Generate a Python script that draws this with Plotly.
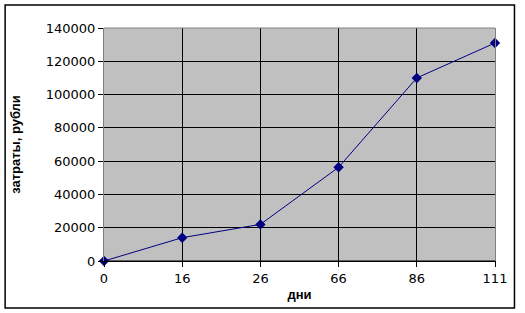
import plotly.graph_objects as go

days = ["0", "16", "26", "66", "86", "111"]
costs = [0, 14000, 22000, 56300, 110000, 131000]
y_ticks = [0, 20000, 40000, 60000, 80000, 100000, 120000, 140000]

W, H = 525, 313
L, R, T, B = 104, 29.5, 28, 52
pw, ph = W - L - R, H - T - B

idx = list(range(len(days)))

fig = go.Figure(go.Scatter(
    x=idx, y=costs, mode="lines+markers",
    line=dict(color="#000080", width=1),
    marker=dict(symbol="diamond", size=8, color="#000080"),
    cliponaxis=False,
))

tickfont = dict(family="DejaVu Sans", size=13, color="black")
titlefont = dict(family="Liberation Sans", size=13, color="black")

fig.update_layout(
    width=W, height=H,
    margin=dict(l=L, r=R, t=T, b=B),
    paper_bgcolor="white", plot_bgcolor="#C0C0C0",
    showlegend=False,
    xaxis=dict(
        range=[0, len(days) - 1], tickvals=idx, ticktext=days,
        showgrid=True, gridcolor="black", gridwidth=1, zeroline=False,
        showline=True, linecolor="black", linewidth=1,
        ticks="outside", ticklen=5, tickcolor="black",
        tickfont=tickfont,
        title=dict(text="<b>дни</b>", font=titlefont, standoff=5),
    ),
    yaxis=dict(
        range=[0, 140000], tickvals=y_ticks, ticktext=[str(v) for v in y_ticks],
        showgrid=True, gridcolor="black", gridwidth=1, zeroline=False,
        showline=True, linecolor="#808080", linewidth=1, mirror=True,
        ticks="outside", ticklen=5, tickcolor="black",
        tickfont=tickfont,
        title=dict(text="<b>затраты, рубли</b>", font=titlefont, standoff=22),
    ),
    shapes=[
        dict(type="line", xref="paper", yref="paper", x0=0, x1=1, y0=1, y1=1,
             line=dict(color="#808080", width=1)),
        dict(type="line", xref="paper", yref="paper", x0=0, x1=1, y0=0, y1=0,
             line=dict(color="black", width=1)),
        dict(type="rect", xref="paper", yref="paper",
             x0=(5 - L) / pw, x1=(515 - L) / pw,
             y0=(H - B - 308) / ph, y1=(H - B - 5) / ph,
             line=dict(color="black", width=1.5), fillcolor="rgba(0,0,0,0)"),
    ],
)

fig.write_html("out.html")
